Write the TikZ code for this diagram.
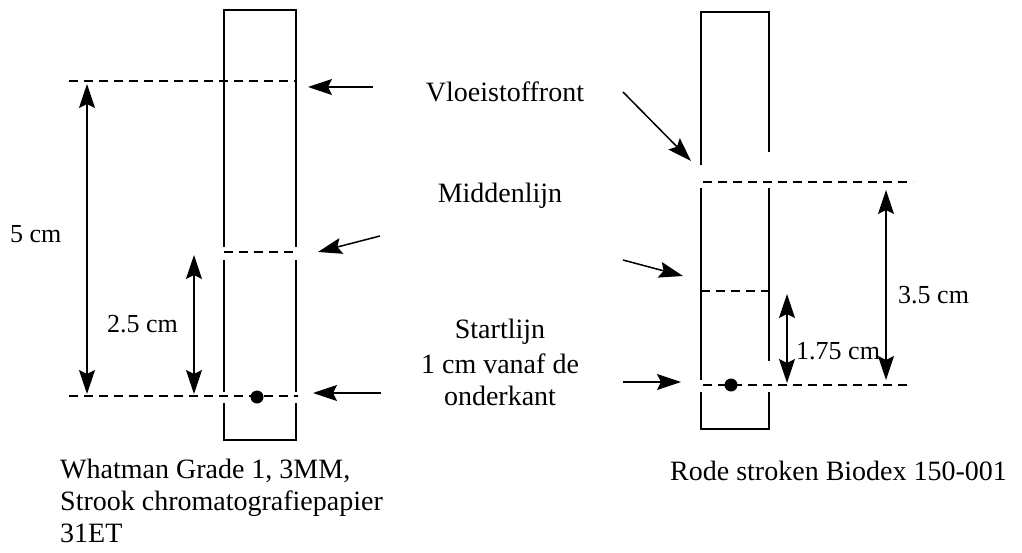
\documentclass[tikz,border=0pt]{standalone}
\usepackage{fontspec}
\setmainfont{Liberation Serif}
\usetikzlibrary{arrows.meta}
\tikzset{bigtip/.tip={Stealth[length=24pt,width=16pt,inset=4pt]}}
\begin{document}
\begin{tikzpicture}[x=1pt,y=-1pt,
  strip/.style={line width=1.4pt},
  dline/.style={line width=1.3pt,dash pattern=on 9pt off 6pt},
  pointer/.style={line width=1.5pt,-bigtip},
  dim/.style={line width=1.5pt,bigtip-bigtip},
  lbl/.style={font=\fontsize{28}{33}\selectfont,inner sep=0pt},
  dlbl/.style={font=\fontsize{26}{30}\selectfont,inner sep=0pt},
  dot/.style={circle,fill=black,minimum size=13pt,inner sep=0pt}]
\useasboundingbox (0,0) rectangle (1022,553);
% ---------- left strip ----------
\draw[strip] (224,247) -- (224,10) -- (296,10) -- (296,247);
\draw[strip] (224,260) -- (224,392);
\draw[strip] (296,260) -- (296,392);
\draw[strip] (224,403) -- (224,440) -- (296,440) -- (296,403);
\coordinate (Lf1) at (69,81);   \coordinate (Lf2) at (296,81);
\coordinate (Lm1) at (224,252); \coordinate (Lm2) at (298,252);
\coordinate (Ls1) at (69,396);  \coordinate (Ls2) at (298,396);
\draw[dline] (Lf1) -- (Lf2);
\draw[dline] (Lm1) -- (Lm2);
\draw[dline] (Ls1) -- (Ls2);
\node[dot] (Ldot) at (257,397) {};
\coordinate (L5a) at (87,84);   \coordinate (L5b) at (87,394);
\coordinate (L25a) at (194,255); \coordinate (L25b) at (194,394);
\draw[dim] (L5a) -- (L5b);
\draw[dim] (L25a) -- (L25b);
\node[dlbl,anchor=base west] (l5) at (10,243) {5 cm};
\node[dlbl,anchor=base west] (l25) at (107,332) {2.5 cm};
% ---------- right strip ----------
\draw[strip] (701,165) -- (701,12) -- (769,12) -- (769,152);
\draw[strip] (701,188) -- (701,380);
\draw[strip] (769,188) -- (769,361);
\draw[strip] (701,392) -- (701,429) -- (769,429) -- (769,392);
\coordinate (Rf1) at (703,182); \coordinate (Rf2) at (913,182);
\coordinate (Rm1) at (701,291); \coordinate (Rm2) at (769,291);
\coordinate (Rs1) at (703,385); \coordinate (Rs2) at (912,385);
\draw[dline] (Rf1) -- (Rf2);
\draw[dline] (Rm1) -- (Rm2);
\draw[dline] (Rs1) -- (Rs2);
\node[dot] (Rdot) at (731,385) {};
\coordinate (R175a) at (787,294); \coordinate (R175b) at (787,383);
\coordinate (R35a) at (886,190);  \coordinate (R35b) at (886,380);
\draw[dim] (R175a) -- (R175b);
\draw[dim] (R35a) -- (R35b);
\node[dlbl,anchor=base west] (l175) at (796,359) {1.75 cm};
\node[dlbl,anchor=base west] (l35) at (898,303) {3.5 cm};
% ---------- middle labels ----------
\node[lbl,anchor=base] (front) at (505,102) {Vloeistoffront};
\node[lbl,anchor=base] (mid) at (500,203) {Middenlijn};
\node[lbl,anchor=base] (start1) at (500,338) {Startlijn};
\node[lbl,anchor=base] (start2) at (500,373) {1 cm vanaf de};
\node[lbl,anchor=base] (start3) at (500,405) {onderkant};
% pointer arrows
\coordinate (a1s) at (373,87);  \coordinate (a1e) at (308,87);
\coordinate (a2s) at (380,236); \coordinate (a2e) at (318,252);
\coordinate (a3s) at (381,393); \coordinate (a3e) at (313,393);
\coordinate (b1s) at (623,92);  \coordinate (b1e) at (691,161);
\coordinate (b2s) at (623,260); \coordinate (b2e) at (683,276);
\coordinate (b3s) at (623,382); \coordinate (b3e) at (681,382);
\draw[pointer] (a1s) -- (a1e);
\draw[pointer] (a2s) -- (a2e);
\draw[pointer] (a3s) -- (a3e);
\draw[pointer] (b1s) -- (b1e);
\draw[pointer] (b2s) -- (b2e);
\draw[pointer] (b3s) -- (b3e);
% ---------- captions ----------
\node[lbl,anchor=base west] (capL1) at (60,478) {Whatman Grade 1, 3MM,};
\node[lbl,anchor=base west] (capL2) at (60,510) {Strook chromatografiepapier};
\node[lbl,anchor=base west] (capL3) at (60,542) {31ET};
\node[lbl,anchor=base west] (capR) at (670,480) {Rode stroken Biodex 150-001};
\end{tikzpicture}
\end{document}
